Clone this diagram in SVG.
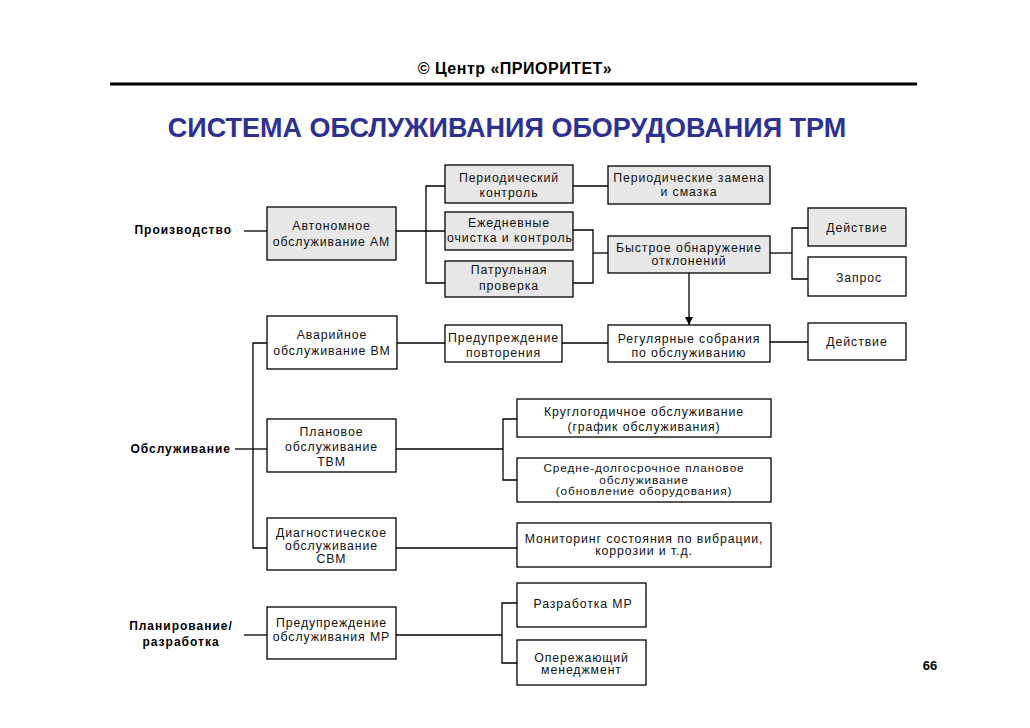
<svg xmlns="http://www.w3.org/2000/svg" width="1030" height="728" viewBox="0 0 1030 728">
<style>
.box{stroke:#000;stroke-width:1.3;}
.g{fill:#e8e8e8;}
.w{fill:#fff;}
.t{font-family:"Liberation Sans",Arial,sans-serif;font-size:12.3px;letter-spacing:0.9px;fill:#111;text-anchor:middle;}
.s{font-size:11.8px;}
.lb{font-family:"Liberation Sans",Arial,sans-serif;font-size:12px;font-weight:bold;letter-spacing:1px;fill:#000;}
.c{fill:none;stroke:#000;stroke-width:1.3;}
</style>
<defs>
<marker id="arr" viewBox="0 0 10 10" refX="10" refY="5" markerWidth="8" markerHeight="8" markerUnits="userSpaceOnUse" orient="auto">
<path d="M0,0 L10,5 L0,10 Z" fill="#000"/>
</marker>
</defs>
<rect width="1030" height="728" fill="#fff"/>
<g id="header">
<text x="515" y="74" font-family="Liberation Sans,Arial,sans-serif" font-size="16" font-weight="bold" letter-spacing="0.5" text-anchor="middle">© Центр «ПРИОРИТЕТ»</text>
<line x1="110" y1="84" x2="917" y2="84" stroke="#000" stroke-width="3"/>
<text x="507" y="137" font-family="Liberation Sans,Arial,sans-serif" font-size="27" font-weight="bold" fill="#2e3192" text-anchor="middle">СИСТЕМА ОБСЛУЖИВАНИЯ ОБОРУДОВАНИЯ ТРМ</text>
</g>
<g id="labels">
<text class="lb" x="232" y="234" text-anchor="end">Производство</text>
<text class="lb" x="231" y="453" text-anchor="end">Обслуживание</text>
<text class="lb" x="181" y="630" text-anchor="middle">Планирование/</text>
<text class="lb" x="181" y="646" text-anchor="middle">разработка</text>
<text x="930" y="670" font-family="Liberation Sans,Arial,sans-serif" font-size="13" font-weight="bold" text-anchor="middle">66</text>
</g>
<g id="connectors">
<path class="c" d="M244,231 H267"/>
<path class="c" d="M396,231 H445"/>
<path class="c" d="M445,186 H426 V283 H445"/>
<path class="c" d="M573,186 H608"/>
<path class="c" d="M573,230 H593 V283 H573"/>
<path class="c" d="M593,253 H608"/>
<path class="c" d="M770,253 H792"/>
<path class="c" d="M808,228 H792 V279 H808"/>
<path class="c" d="M689,273 V325" marker-end="url(#arr)"/>
<path class="c" d="M397,343 H445"/>
<path class="c" d="M562,343 H608"/>
<path class="c" d="M770,342 H808"/>
<path class="c" d="M235,449 H267"/>
<path class="c" d="M267,343 H253 V548 H267"/>
<path class="c" d="M396,449 H503"/>
<path class="c" d="M517,419 H503 V480 H517"/>
<path class="c" d="M396,548 H517"/>
<path class="c" d="M244,635 H267"/>
<path class="c" d="M396,635 H502"/>
<path class="c" d="M517,603 H502 V663 H517"/>
</g>
<g id="n-am"><rect class="box g" x="267" y="207" width="129" height="53"/><text class="t" x="331.5" y="230">Автономное</text><text class="t" x="331.5" y="246">обслуживание АМ</text></g>
<g id="n-periodic"><rect class="box g" x="445" y="165" width="128" height="38"/><text class="t" x="509" y="182">Периодический</text><text class="t" x="509" y="197">контроль</text></g>
<g id="n-daily"><rect class="box g" x="445" y="212" width="128" height="38"/><text class="t" x="509" y="227">Ежедневные</text><text class="t" x="510" y="242">очистка и контроль</text></g>
<g id="n-patrol"><rect class="box g" x="445" y="261" width="128" height="36"/><text class="t" x="509" y="274">Патрульная</text><text class="t" x="509" y="290">проверка</text></g>
<g id="n-replace"><rect class="box g" x="608" y="166" width="162" height="38"/><text class="t" x="689" y="182">Периодические замена</text><text class="t" x="689" y="196">и смазка</text></g>
<g id="n-fast"><rect class="box g" x="608" y="236" width="162" height="37"/><text class="t" x="689" y="252">Быстрое обнаружение</text><text class="t" x="689" y="265">отклонений</text></g>
<g id="n-action1"><rect class="box g" x="808" y="208" width="98" height="38"/><text class="t" x="857" y="232">Действие</text></g>
<g id="n-request"><rect class="box w" x="808" y="257" width="98" height="39"/><text class="t" x="859" y="282">Запрос</text></g>
<g id="n-bm"><rect class="box w" x="267" y="316" width="130" height="53"/><text class="t" x="332" y="339">Аварийное</text><text class="t" x="332" y="355">обслуживание ВМ</text></g>
<g id="n-repeat"><rect class="box w" x="445" y="325" width="117" height="37"/><text class="t" x="503.5" y="342">Предупреждение</text><text class="t" x="503.5" y="357">повторения</text></g>
<g id="n-regular"><rect class="box w" x="608" y="325" width="162" height="37"/><text class="t" x="689" y="343">Регулярные собрания</text><text class="t" x="689" y="357">по обслуживанию</text></g>
<g id="n-action2"><rect class="box w" x="808" y="323" width="98" height="37"/><text class="t" x="857" y="346">Действие</text></g>
<g id="n-tbm"><rect class="box w" x="267" y="419" width="129" height="53"/><text class="t" x="331.5" y="436">Плановое</text><text class="t" x="331.5" y="451">обслуживание</text><text class="t" x="331.5" y="466">ТВМ</text></g>
<g id="n-year"><rect class="box w" x="517" y="399" width="254" height="38"/><text class="t" x="644" y="416">Круглогодичное обслуживание</text><text class="t" x="644" y="431">(график обслуживания)</text></g>
<g id="n-midlong"><rect class="box w" x="517" y="458" width="254" height="44"/><text class="t s" x="644" y="472">Средне-долгосрочное плановое</text><text class="t s" x="644" y="483.5">обслуживание</text><text class="t s" x="644" y="495">(обновление оборудования)</text></g>
<g id="n-cbm"><rect class="box w" x="267" y="518" width="129" height="52"/><text class="t" x="331.5" y="537">Диагностическое</text><text class="t" x="331.5" y="550">обслуживание</text><text class="t" x="331.5" y="563">СВМ</text></g>
<g id="n-monitor"><rect class="box w" x="517" y="523" width="254" height="44"/><text class="t" x="644" y="543">Мониторинг состояния по вибрации,</text><text class="t" x="644" y="555">коррозии и т.д.</text></g>
<g id="n-mp"><rect class="box w" x="267" y="607" width="129" height="52"/><text class="t" x="331.5" y="627">Предупреждение</text><text class="t" x="331.5" y="641">обслуживания МР</text></g>
<g id="n-mpdev"><rect class="box w" x="517" y="583" width="129" height="44"/><text class="t" x="583" y="608">Разработка МР</text></g>
<g id="n-proactive"><rect class="box w" x="517" y="640" width="129" height="45"/><text class="t" x="581.5" y="662">Опережающий</text><text class="t" x="581.5" y="674">менеджмент</text></g>
</svg>
